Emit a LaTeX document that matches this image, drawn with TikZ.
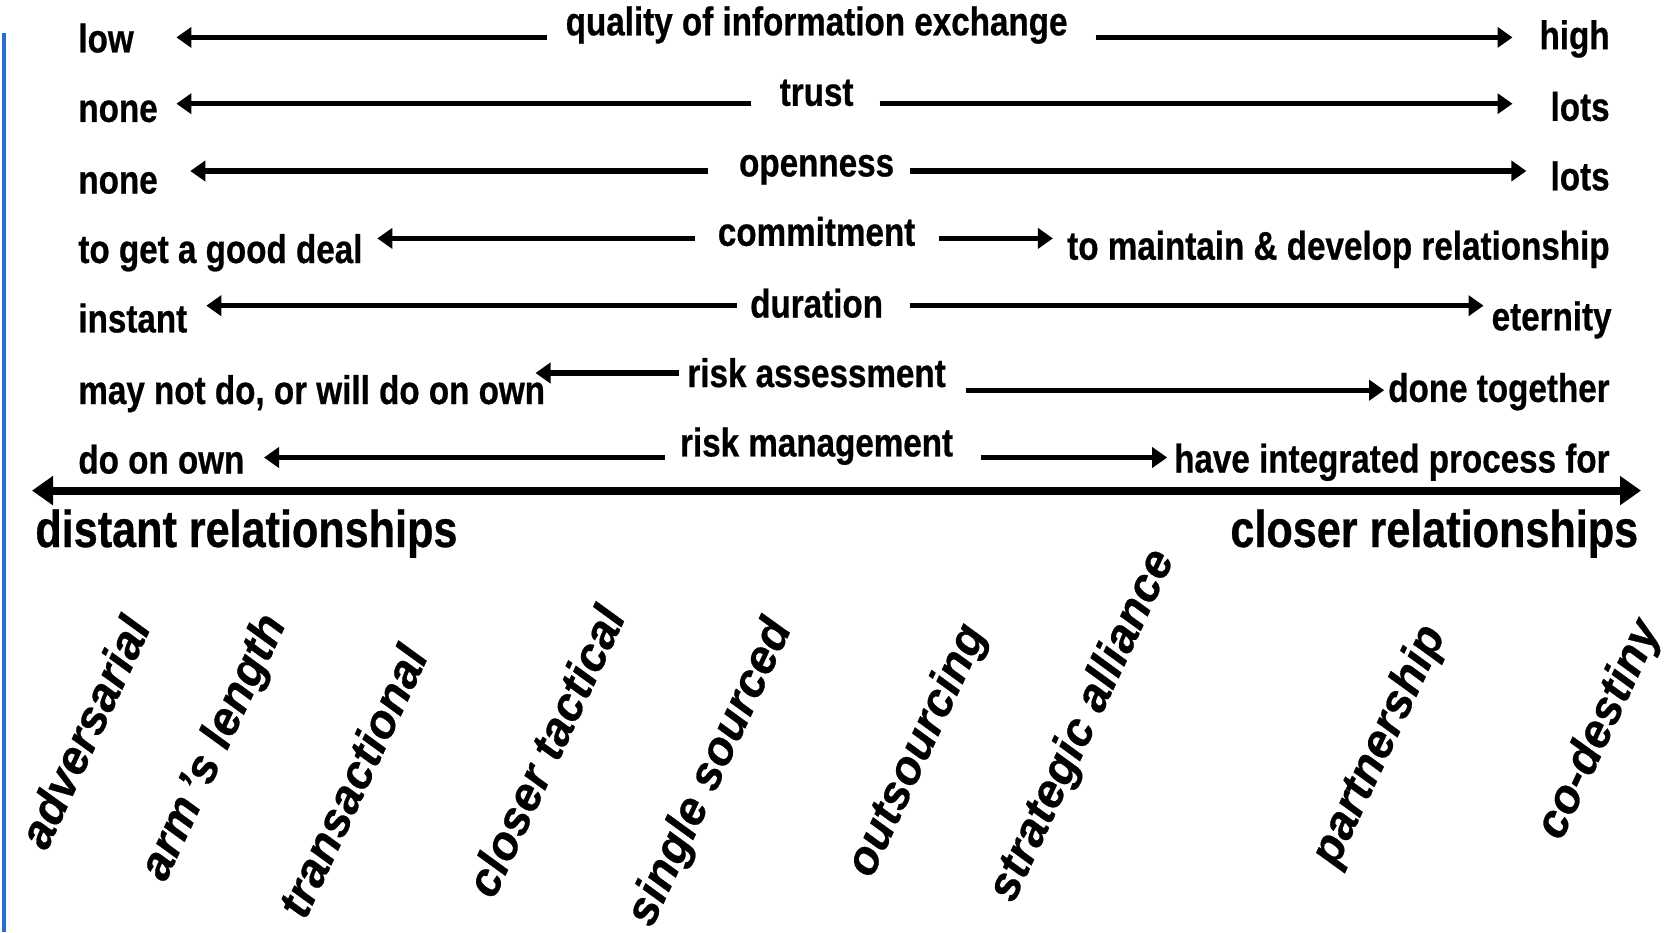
\documentclass[tikz,border=0pt]{standalone}
\usepackage{fontspec}
\setmainfont{Liberation Sans}
\newfontfamily\narrowsans{Liberation Sans}[FakeStretch=0.83, FakeBold=0.6]
\newfontfamily\plainsans{Liberation Sans}[FakeBold=0.6]
\usetikzlibrary{arrows.meta}
\definecolor{edgeblue}{RGB}{40,110,210}

\begin{document}
\begin{tikzpicture}[x=0.5pt,y=-0.5pt,
  txt/.style={font=\narrowsans\bfseries\fontsize{20}{24}\selectfont, inner sep=0pt},
  lefttxt/.style={txt, anchor=base west},
  righttxt/.style={txt, anchor=base east},
  midtxt/.style={txt, anchor=base},
  endtxt/.style={font=\narrowsans\bfseries\fontsize{26}{30}\selectfont, inner sep=0pt},
  kind/.style={font=\plainsans\bfseries\itshape\fontsize{23.5}{28}\selectfont, inner sep=0pt, rotate=65},
  scalearrow/.style={line width=2.7pt, -{Triangle[length=7.5pt,width=10pt]}},
  axis/.style={line width=3.9pt, {Triangle[length=10.5pt,width=14pt]}-{Triangle[length=10.5pt,width=14pt]}}
]
\useasboundingbox (0,0) rectangle (1676,932);

% left margin rule
\draw[edgeblue, line width=1.8pt] (4,33) -- (4,932);

% row 1: quality of information exchange
\node[lefttxt]  (lo1)  at (78,52.4)    {low};
\node[midtxt]   (mid1) at (816.6,35.3) {quality of information exchange};
\node[righttxt] (hi1)  at (1610,49.2)  {high};
\coordinate (a1s) at (547.3,37.4);  \coordinate (a1t) at (176.4,37.4);
\coordinate (b1s) at (1095.6,37.4); \coordinate (b1t) at (1512.5,37.4);
\draw[scalearrow] (a1s) -- (a1t);
\draw[scalearrow] (b1s) -- (b1t);

% row 2: trust
\node[lefttxt]  (lo2)  at (78,121.9)    {none};
\node[midtxt]   (mid2) at (816.6,105.8) {trust};
\node[righttxt] (hi2)  at (1610,120.8)  {lots};
\coordinate (a2s) at (751.4,103.7); \coordinate (a2t) at (176.4,103.7);
\coordinate (b2s) at (879.7,103.7); \coordinate (b2t) at (1512.5,103.7);
\draw[scalearrow] (a2s) -- (a2t);
\draw[scalearrow] (b2s) -- (b2t);

% row 3: openness
\node[lefttxt]  (lo3)  at (78,193.5)    {none};
\node[midtxt]   (mid3) at (816.6,176.4) {openness};
\node[righttxt] (hi3)  at (1610,190.3)  {lots};
\coordinate (a3s) at (707.6,171); \coordinate (a3t) at (190.3,171);
\coordinate (b3s) at (909.6,171); \coordinate (b3t) at (1526.4,171);
\draw[scalearrow] (a3s) -- (a3t);
\draw[scalearrow] (b3s) -- (b3t);

% row 4: commitment
\node[lefttxt]  (lo4)  at (78,263)      {to get a good deal};
\node[midtxt]   (mid4) at (816.6,245.8) {commitment};
\node[righttxt] (hi4)  at (1610,259.7)  {to maintain \& develop relationship};
\coordinate (a4s) at (694.8,238.4); \coordinate (a4t) at (377.3,238.4);
\coordinate (b4s) at (938.5,238.4); \coordinate (b4t) at (1052.9,238.4);
\draw[scalearrow] (a4s) -- (a4t);
\draw[scalearrow] (b4s) -- (b4t);

% row 5: duration
\node[lefttxt]  (lo5)  at (78,332.4)    {instant};
\node[midtxt]   (mid5) at (816.6,317.5) {duration};
\node[righttxt] (hi5)  at (1612,330.3)  {eternity};
\coordinate (a5s) at (736.5,305.7); \coordinate (a5t) at (206.3,305.7);
\coordinate (b5s) at (909.6,305.7); \coordinate (b5t) at (1483.6,305.7);
\draw[scalearrow] (a5s) -- (a5t);
\draw[scalearrow] (b5s) -- (b5t);

% row 6: risk assessment
\node[lefttxt]  (lo6)  at (78,404)      {may not do, or will do on own};
\node[midtxt]   (mid6) at (816.6,387)   {risk assessment};
\node[righttxt] (hi6)  at (1610,401.9)  {done together};
\coordinate (a6s) at (678.8,373);   \coordinate (a6t) at (535.5,373);
\coordinate (b6s) at (966.3,390.2); \coordinate (b6t) at (1384.2,390.2);
\draw[scalearrow] (a6s) -- (a6t);
\draw[scalearrow] (b6s) -- (b6t);

% row 7: risk management
\node[lefttxt]  (lo7)  at (78,473.5)    {do on own};
\node[midtxt]   (mid7) at (816.6,456.4) {risk management};
\node[righttxt] (hi7)  at (1610,472.5)  {have integrated process for};
\coordinate (a7s) at (664.9,457.5); \coordinate (a7t) at (264,457.5);
\coordinate (b7s) at (981.3,457.5); \coordinate (b7t) at (1167.2,457.5);
\draw[scalearrow] (a7s) -- (a7t);
\draw[scalearrow] (b7s) -- (b7t);

% main axis
\coordinate (axl) at (32,490.6);
\coordinate (axr) at (1641,490.6);
\draw[axis] (axl) -- (axr);
\node[endtxt, anchor=base west] (distant) at (35,547)    {distant relationships};
\node[endtxt, anchor=base east] (closer)  at (1638.6,547) {closer relationships};

% relationship types along the axis
\node[kind] (k1) at (84,732)    {adversarial};
\node[kind] (k2) at (215,748)   {arm\thinspace’s length};
\node[kind] (k3) at (352,781)   {transactional};
\node[kind] (k4) at (545,751)   {closer tactical};
\node[kind] (k5) at (711,773)   {single sourced};
\node[kind] (k6) at (918,751)   {outsourcing};
\node[kind] (k7) at (1083,726)  {strategic alliance};
\node[kind] (k8) at (1380,746)  {partnership};
\node[kind] (k9) at (1600,730)  {co-destiny};
\end{tikzpicture}
\end{document}
